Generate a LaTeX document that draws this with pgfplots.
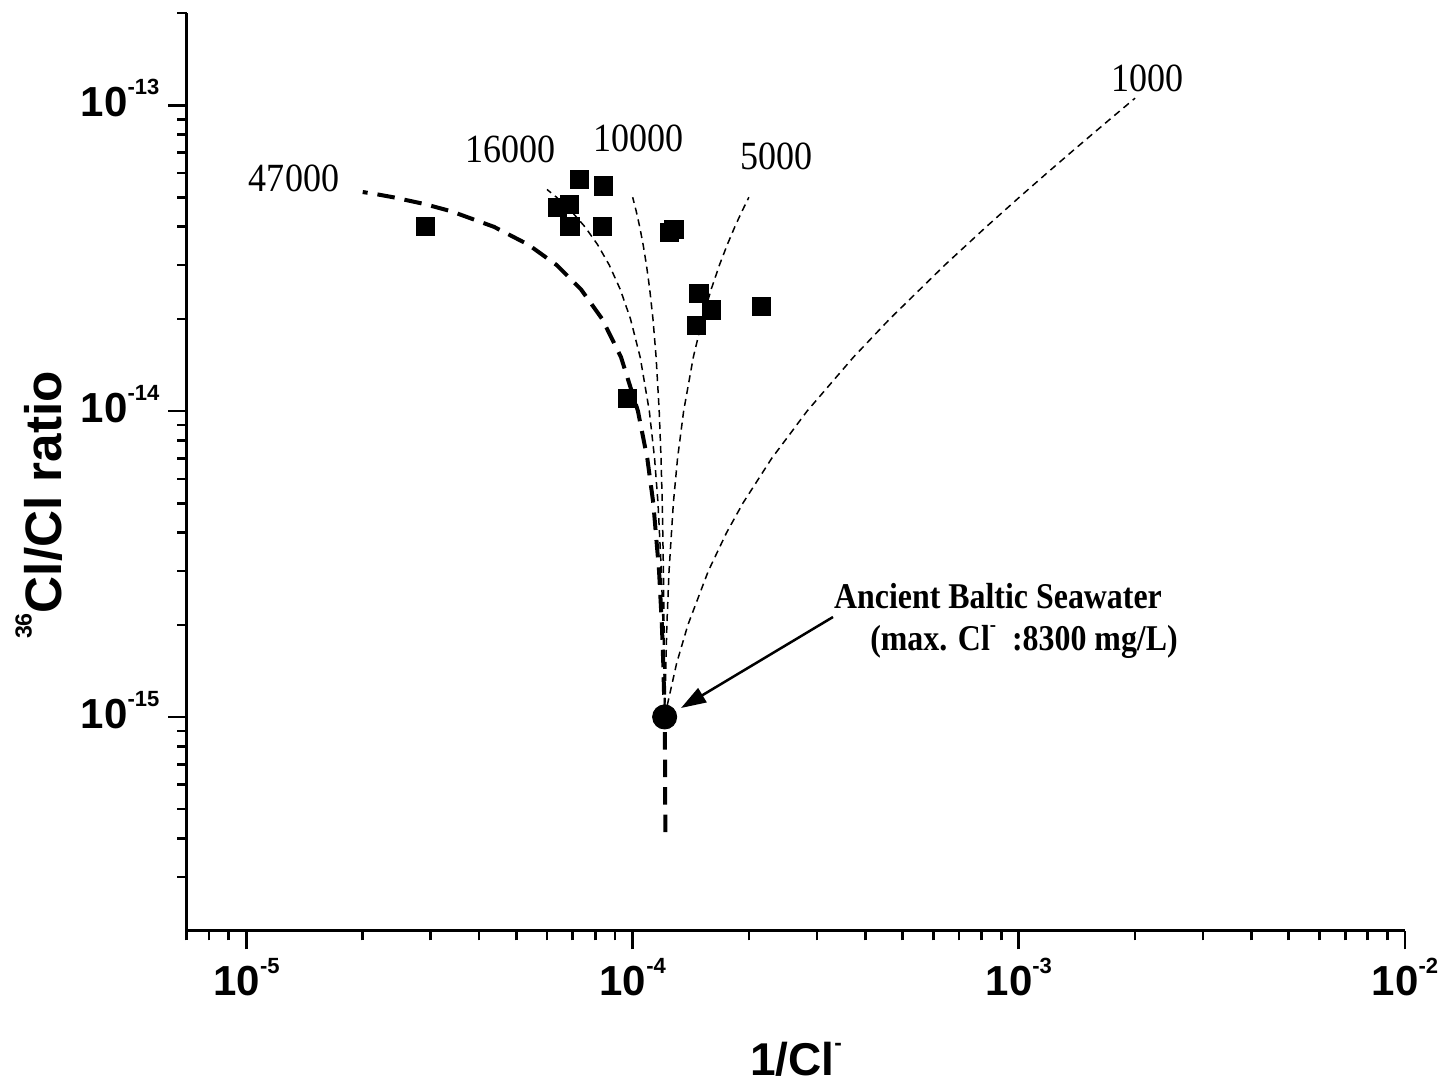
\documentclass[border=0pt]{standalone}
\usepackage{fontspec}
\setmainfont{Liberation Sans}
\newfontfamily\timesfont[FakeStretch=0.9]{Liberation Serif}
\newfontfamily\timesnarrow[FakeStretch=0.88]{Liberation Serif}
\usepackage{pgfplots}
\pgfplotsset{compat=1.18}
\usetikzlibrary{arrows.meta}
\newcommand{\tl}[1]{10\raisebox{8.9pt}{\fontsize{8.8pt}{9pt}\selectfont #1}}
\begin{document}
\begin{tikzpicture}
\begin{axis}[
  at={(0pt,0pt)}, anchor=south west,
  scale only axis, width=487.32pt, height=367.08pt,
  xmode=log, ymode=log,
  xmin=7e-6, xmax=1e-2, ymin=2e-16, ymax=2e-13,
  axis lines=left,
  axis line style={-, line width=1.1pt},
  tick style={line width=1.1pt, black},
  tick align=outside,
  major tick length=7.4pt,
  minor tick length=3.8pt,
  xtick={1e-5,1e-4,1e-3,1e-2},
  xticklabels={\tl{-5},\tl{-4},\tl{-3},\tl{-2}},
  minor xtick={7e-6,8e-6,9e-6,2e-5,3e-5,4e-5,5e-5,6e-5,7e-5,8e-5,9e-5,2e-4,3e-4,4e-4,5e-4,6e-4,7e-4,8e-4,9e-4,2e-3,3e-3,4e-3,5e-3,6e-3,7e-3,8e-3,9e-3},
  ytick={1e-15,1e-14,1e-13},
  yticklabels={\tl{-15},\tl{-14},\tl{-13}},
  minor ytick={3e-16,4e-16,5e-16,6e-16,7e-16,8e-16,9e-16,2e-15,3e-15,4e-15,5e-15,6e-15,7e-15,8e-15,9e-15,2e-14,3e-14,4e-14,5e-14,6e-14,7e-14,8e-14,9e-14,2e-13},
  ticklabel style={font=\fontsize{16.8pt}{18pt}\selectfont\bfseries},
  yticklabel style={yshift=2.8pt},
  clip=false,
]
% 47000 mixing line (thick dashed)
\addplot[black, line width=1.6pt, dash pattern=on 7pt off 4pt] coordinates {
(1.215e-4,4.2e-16) (1.213e-4,7e-16) (1.21e-4,1e-15) (1.2001e-4,1.5e-15) (1.1902e-4,2e-15)
(1.1704e-4,3e-15) (1.1308e-4,5e-15) (1.0912e-4,7e-15) (1.0318e-4,1e-14) (9.328e-5,1.5e-14)
(8.337e-5,2e-14) (7.347e-5,2.5e-14) (6.357e-5,3e-14) (5.367e-5,3.5e-14) (4.376e-5,4e-14)
(3.386e-5,4.5e-14) (2.891e-5,4.75e-14) (2.396e-5,5e-14) (2.198e-5,5.1e-14) (2.0e-5,5.2e-14)};
% 16000
\addplot[black, line width=0.6pt, dash pattern=on 2.8pt off 2pt] coordinates {
(1.21e-4,1e-15) (1.2041e-4,1.5e-15) (1.1983e-4,2e-15) (1.1865e-4,3e-15) (1.1631e-4,5e-15)
(1.1396e-4,7e-15) (1.1044e-4,1e-14) (1.0458e-4,1.5e-14) (9.871e-5,2e-14) (9.285e-5,2.5e-14)
(8.698e-5,3e-14) (8.112e-5,3.5e-14) (7.525e-5,4e-14) (6.939e-5,4.5e-14) (6.352e-5,5e-14) (6.0e-5,5.3e-14)};
% 10000
\addplot[black, line width=0.6pt, dash pattern=on 2.8pt off 2pt] coordinates {
(1.21e-4,1e-15) (1.2057e-4,2e-15) (1.2014e-4,3e-15) (1.1929e-4,5e-15) (1.1843e-4,7e-15)
(1.1714e-4,1e-14) (1.15e-4,1.5e-14) (1.1286e-4,2e-14) (1.1071e-4,2.5e-14) (1.0857e-4,3e-14)
(1.0643e-4,3.5e-14) (1.0429e-4,4e-14) (1.0214e-4,4.5e-14) (1.0e-4,5e-14)};
% 5000
\addplot[black, line width=0.6pt, dash pattern=on 2.8pt off 2pt] coordinates {
(1.21e-4,1e-15) (1.2261e-4,2e-15) (1.2422e-4,3e-15) (1.2745e-4,5e-15) (1.3067e-4,7e-15)
(1.3551e-4,1e-14) (1.4357e-4,1.5e-14) (1.5163e-4,2e-14) (1.5969e-4,2.5e-14) (1.6775e-4,3e-14)
(1.7582e-4,3.5e-14) (1.8388e-4,4e-14) (1.9194e-4,4.5e-14) (2.0e-4,5e-14)};
% 1000
\addplot[black, line width=0.6pt, dash pattern=on 2.8pt off 2pt] coordinates {
(1.21e-4,1e-15) (1.30e-4,1.5e-15) (1.39e-4,2e-15) (1.57e-4,3e-15) (1.75e-4,4e-15)
(1.93e-4,5e-15) (2.29e-4,7e-15) (2.83e-4,1e-14) (3.73e-4,1.5e-14) (4.63e-4,2e-14)
(6.43e-4,3e-14) (8.23e-4,4e-14) (1.003e-3,5e-14) (1.183e-3,6e-14) (1.363e-3,7e-14)
(1.543e-3,8e-14) (1.723e-3,9e-14) (2.0e-3,1.054e-13)};
% samples
\addplot[only marks, mark=square*, mark size=3.65pt, black] coordinates {
(2.91e-5,4.02e-14) (7.30e-5,5.71e-14) (8.42e-5,5.44e-14) (6.38e-5,4.62e-14) (6.87e-5,4.74e-14)
(6.88e-5,4.02e-14) (8.36e-5,4.00e-14) (1.244e-4,3.83e-14) (1.279e-4,3.92e-14) (1.485e-4,2.42e-14)
(1.602e-4,2.14e-14) (1.464e-4,1.90e-14) (2.158e-4,2.20e-14) (9.68e-5,1.10e-14)};
% Ancient Baltic Seawater
\addplot[only marks, mark=*, mark size=4.8pt, black] coordinates {(1.21e-4,1e-15)};
\end{axis}
\begin{scope}[shift={(-74.68pt,372.28pt)}, x=0.4pt, y=-0.4pt]
\node[font=\timesfont\fontsize{16pt}{18pt}\selectfont, anchor=base, inner sep=0pt] at (294,191.7) {47000};
\node[font=\timesfont\fontsize{16pt}{18pt}\selectfont, anchor=base, inner sep=0pt] at (510,163) {16000};
\node[font=\timesfont\fontsize{16pt}{18pt}\selectfont, anchor=base, inner sep=0pt] at (638,151.5) {10000};
\node[font=\timesfont\fontsize{16pt}{18pt}\selectfont, anchor=base, inner sep=0pt] at (776,170) {5000};
\node[font=\timesfont\fontsize{16pt}{18pt}\selectfont, anchor=base, inner sep=0pt] at (1147,92) {1000};
\node[font=\bfseries\fontsize{20.5pt}{22pt}\selectfont, rotate=90, anchor=base, inner sep=0pt] at (61.7,505) {\raisebox{12pt}{\fontsize{9.3pt}{10pt}\selectfont 36}Cl/Cl ratio};
\node[font=\bfseries\fontsize{18.4pt}{20pt}\selectfont, anchor=base, inner sep=0pt] at (796,1075) {1/Cl\raisebox{10pt}{\fontsize{9pt}{10pt}\selectfont -}};
\draw[line width=1pt, -{Triangle[length=10pt,width=6.5pt]}] (833,617) -- (681,708);
\node[font=\timesnarrow\bfseries\fontsize{14.5pt}{16pt}\selectfont, anchor=base, inner sep=0pt] at (998,608) {Ancient Baltic Seawater};
\node[font=\timesnarrow\bfseries\fontsize{14.5pt}{16pt}\selectfont, anchor=base, inner sep=0pt] at (1024,650) {(max. Cl\raisebox{7.5pt}{\fontsize{8.5pt}{9pt}\selectfont -}\ \ :8300 mg/L)};
\pgfresetboundingbox
\path[use as bounding box] (0,0) rectangle (1445,1088);
\end{scope}
\end{tikzpicture}
\end{document}
